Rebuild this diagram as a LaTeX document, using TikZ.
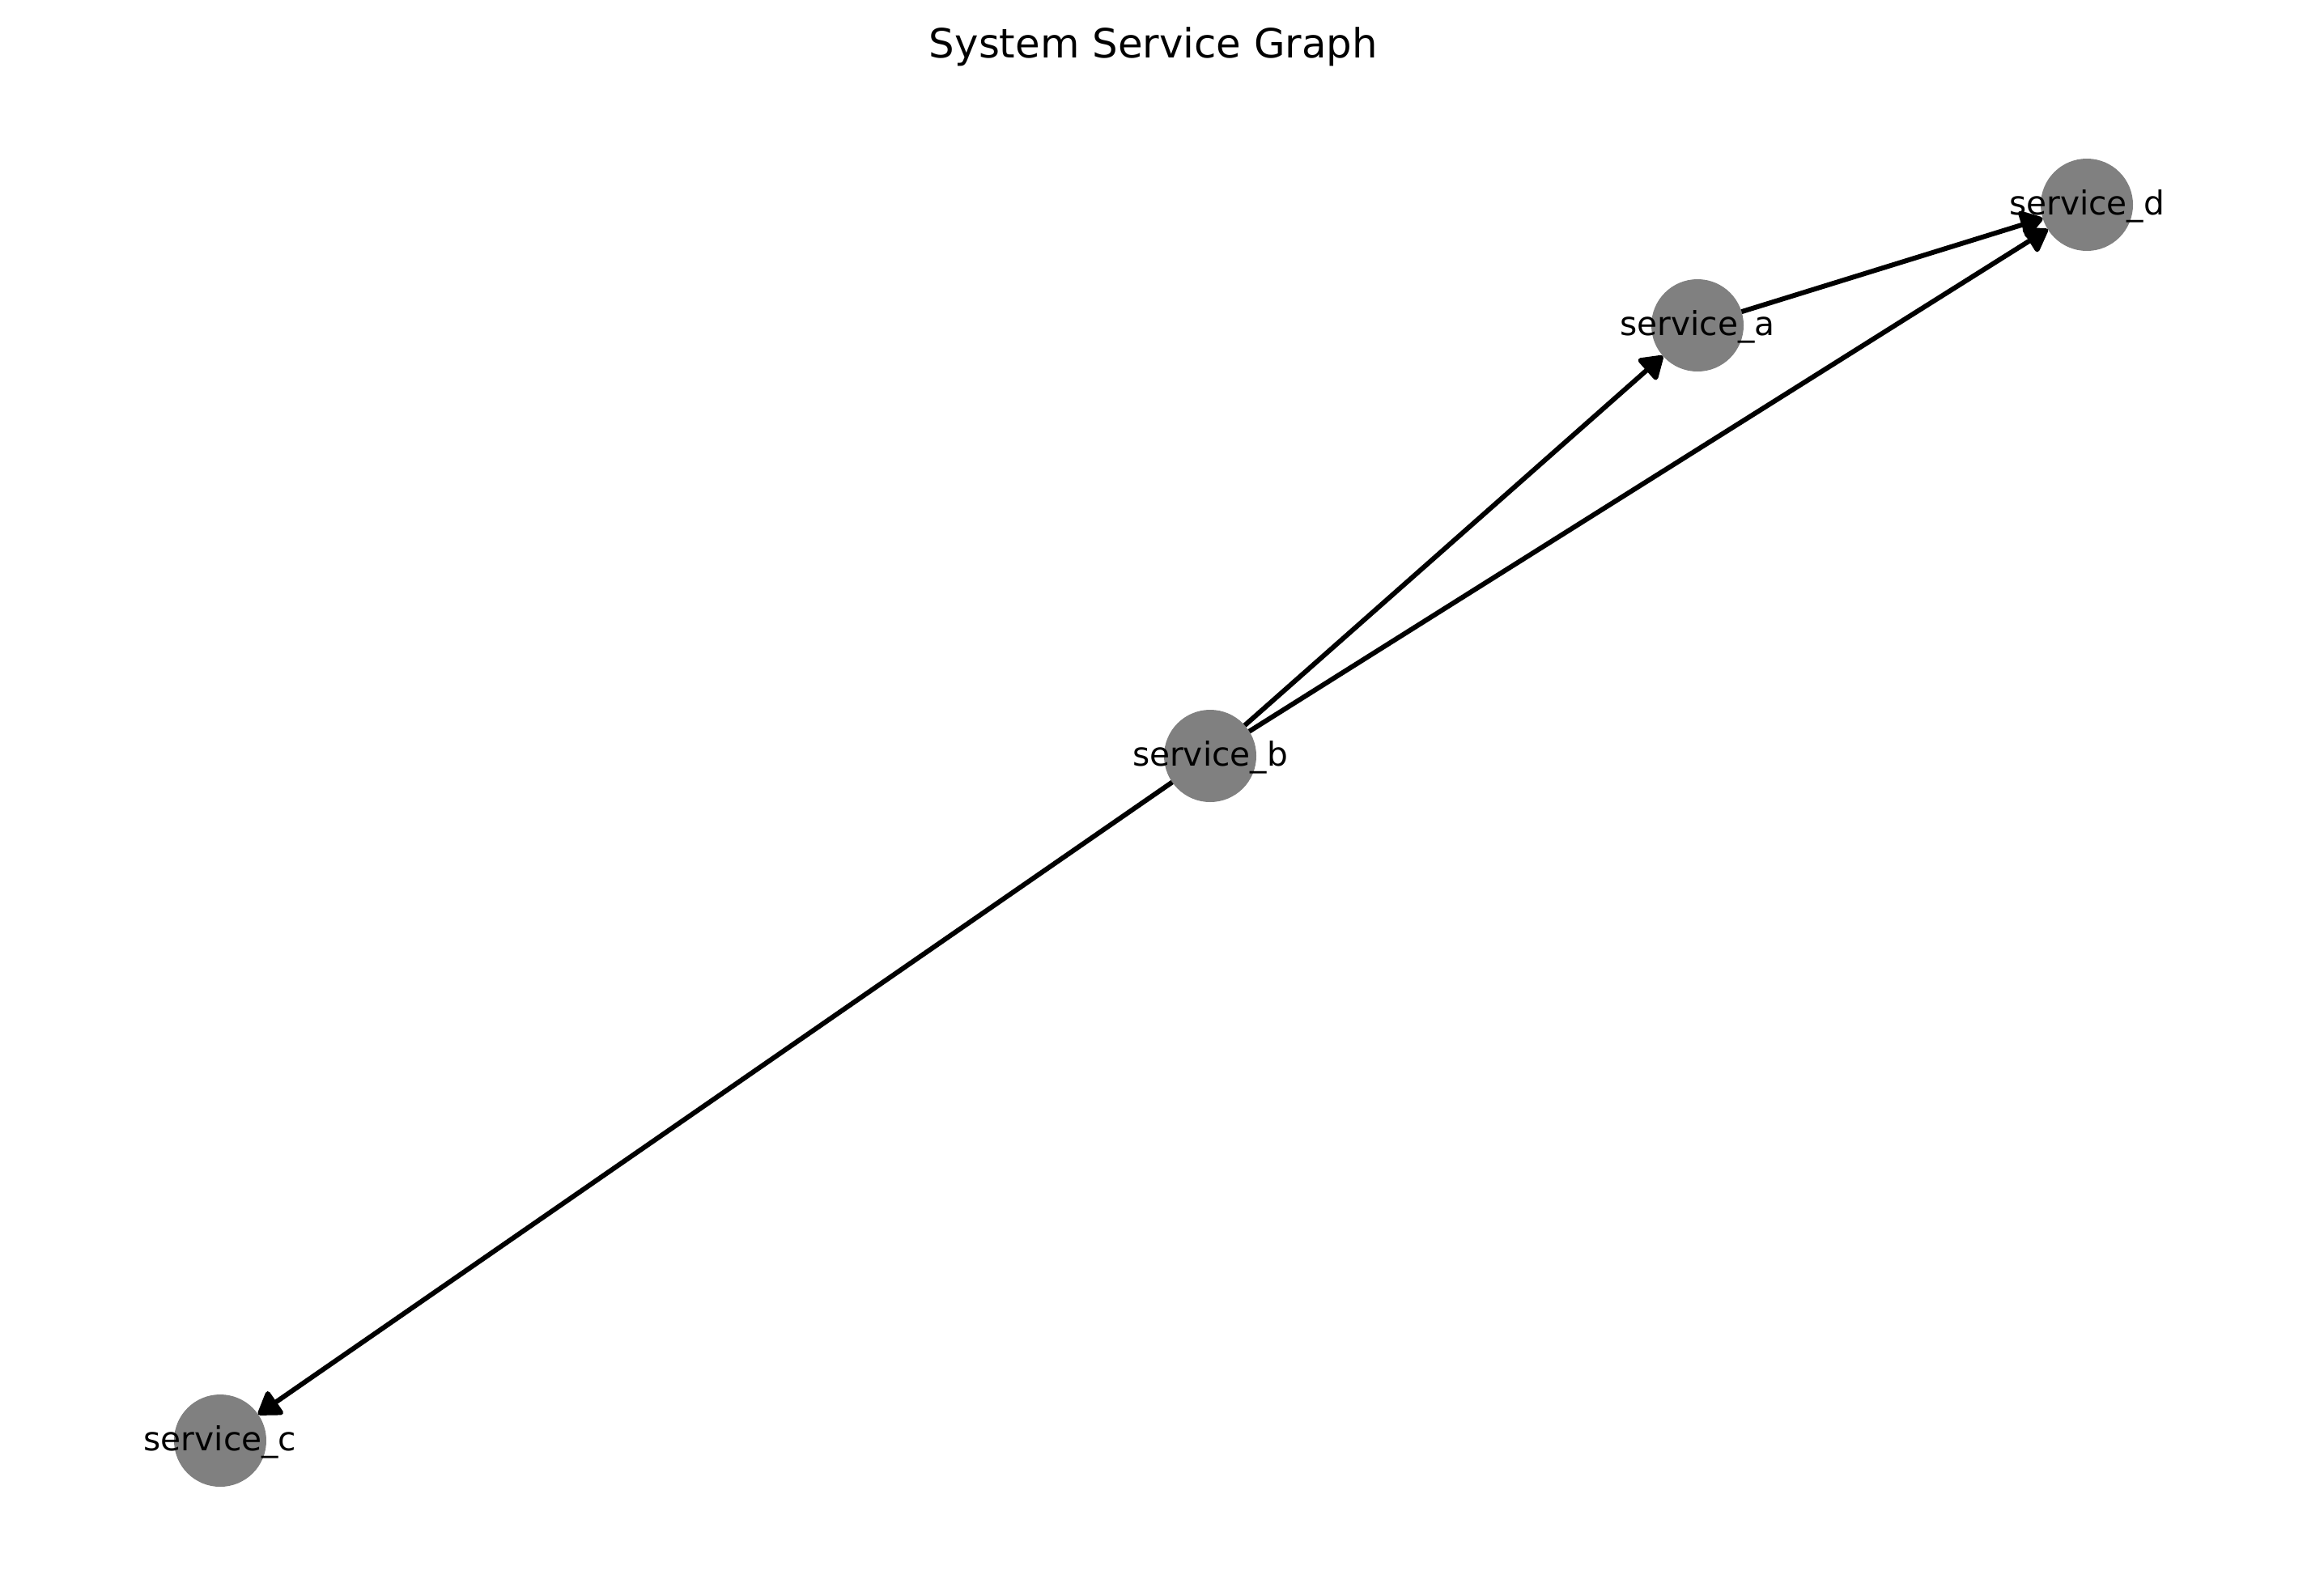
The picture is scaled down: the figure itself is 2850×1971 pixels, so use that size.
\documentclass[tikz,border=0pt]{standalone}
\usepackage{fontspec}
\setmainfont{DejaVu Sans}
\usetikzlibrary{arrows.meta}
\tikzset{
  svc/.style={circle, fill={rgb,255:red,128;green,128;blue,128}, draw=none, minimum size=114pt, inner sep=0pt, outer sep=0pt},
  lbl/.style={anchor=base, inner sep=0pt, font=\fontsize{40.7}{48}\selectfont},
  edge/.style={draw=black, line width=6pt, -{Triangle[length=30pt, width=38pt, round]}}
}
\begin{document}
\begin{tikzpicture}[x=1pt, y=-1pt]
  \useasboundingbox (0,0) rectangle (2850,1971);
  \fill[white] (0,0) rectangle (2850,1971);
  \node[anchor=base, inner sep=0pt, font=\fontsize{49.8}{60}\selectfont] (title) at (1425,71) {System Service Graph};
  \node[svc] (a) at (2097,402) {};
  \node[svc] (b) at (1495,934) {};
  \node[svc] (c) at (272,1780) {};
  \node[svc] (d) at (2578,253) {};
  \draw[edge] (b) -- (a);
  \draw[edge] (b) -- (d);
  \draw[edge] (b) -- (c);
  \draw[edge] (a) -- (d);
  \node[lbl] (la) at (2097,414) {service\_a};
  \node[lbl] (lb) at (1495,946) {service\_b};
  \node[lbl] (lc) at (272,1792) {service\_c};
  \node[lbl] (ld) at (2578,265) {service\_d};
\end{tikzpicture}
\end{document}
